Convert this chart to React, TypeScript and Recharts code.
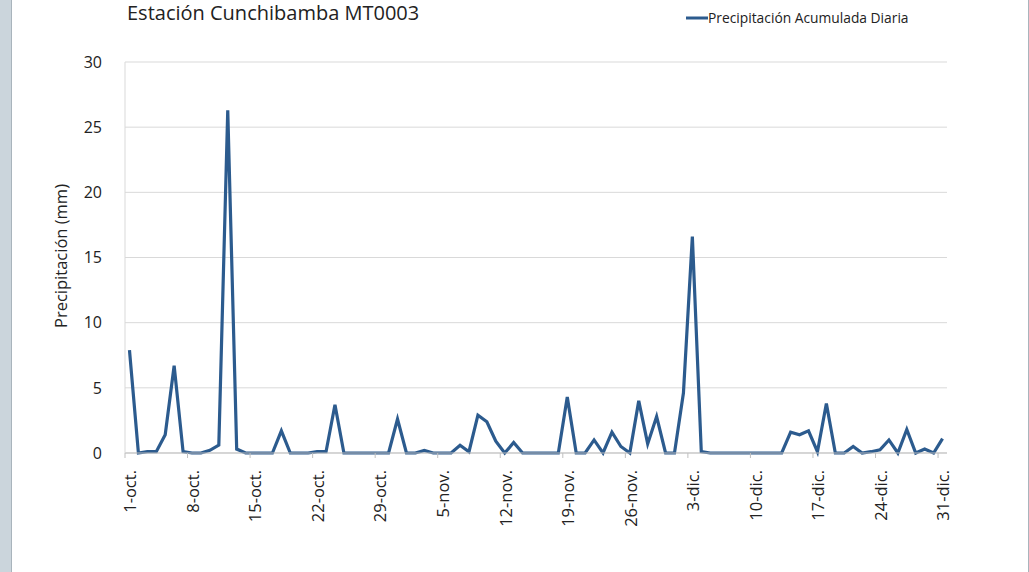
import React from "react";
import {
  CartesianGrid,
  Line,
  LineChart,
  XAxis,
  YAxis,
} from "recharts";

const octubre = [
  7.9, 0, 0.1, 0.1, 1.4, 6.7, 0.1, 0, 0, 0.2, 0.6, 26.3, 0.3, 0, 0, 0, 0, 1.7,
  0, 0, 0, 0.1, 0.1, 3.7, 0, 0, 0, 0, 0, 0, 2.6,
];
const noviembre = [
  0, 0, 0.2, 0, 0, 0, 0.6, 0.1, 2.9, 2.4, 0.9, 0, 0.8, 0, 0, 0, 0, 0, 4.3, 0,
  0, 1.0, 0, 1.6, 0.5, 0, 4.0, 0.7, 2.8, 0,
];
const diciembre = [
  0, 4.6, 16.6, 0.1, 0, 0, 0, 0, 0, 0, 0, 0, 0, 1.6, 1.4, 1.7, 0.1, 3.8, 0, 0,
  0.5, 0, 0.1, 0.25, 1.0, 0, 1.8, 0, 0.3, 0, 1.1,
];
const meses = [
  { abrev: "oct.", valores: octubre },
  { abrev: "nov.", valores: noviembre },
  { abrev: "dic.", valores: diciembre },
];
const yTicks = [0, 5, 10, 15, 20, 25, 30];

const data = meses.flatMap((m) =>
  m.valores.map((v, i) => ({ dia: `${i + 1}-${m.abrev}`, precip: v }))
);

const FONT = "'Open Sans', sans-serif";
const COLOR = "#2c5b8e";
const HALF_STEP = 4.47;

const XTick = (props: any) => {
  const { x, y, payload } = props;
  return (
    <g>
      <line x1={x - HALF_STEP} y1={y} x2={x - HALF_STEP} y2={y + 5} stroke="#bfbfbf" />
      <text
        x={0}
        y={0}
        dy="0.35em"
        transform={`translate(${x + 1},${y + 17}) rotate(-90)`}
        textAnchor="end"
        fontSize={16.5}
        fill="#222"
        fontFamily={FONT}
      >
        {payload.value}
      </text>
    </g>
  );
};

export default function App() {
  return (
    <div style={{ position: "absolute", left: 0, top: 0, width: 1029, height: 572, background: "#fff", overflow: "hidden" }}>
      <div style={{ position: "absolute", left: 0, top: 0, width: 11, height: 572, background: "#cbd5dc", borderRight: "1px solid #a9b4bc" }} />
      <div style={{ position: "absolute", right: 0, top: 0, width: 1, height: 572, background: "#a9b4bc" }} />
      <div style={{ position: "absolute", left: 127, top: -1, fontFamily: FONT, fontSize: 20, color: "#222", lineHeight: "28px" }}>
        Estación Cunchibamba MT0003
      </div>
      <div
        style={{
          position: "absolute",
          left: 686,
          top: 8,
          display: "flex",
          alignItems: "center",
          fontFamily: FONT,
          fontSize: 13.8,
          color: "#222",
          lineHeight: "20px",
        }}
      >
        <svg width={22} height={10}>
          <line x1={0} y1={5} x2={22} y2={5} stroke={COLOR} strokeWidth={3} />
        </svg>
        <span>Precipitación Acumulada Diaria</span>
      </div>
      <div
        style={{
          position: "absolute",
          left: 60,
          top: 256,
          transform: "translate(-50%, -50%) rotate(-90deg)",
          fontFamily: FONT,
          fontSize: 16.5,
          color: "#222",
          whiteSpace: "nowrap",
        }}
      >
        Precipitación (mm)
      </div>
      <LineChart width={1029} height={572} data={data} margin={{ top: 62, right: 82, left: 0, bottom: 39 }}>
        <CartesianGrid vertical={false} stroke="#d9d9d9" />
        <XAxis
          dataKey="dia"
          interval={6}
          padding={{ left: HALF_STEP, right: HALF_STEP }}
          tickLine={false}
          tickSize={0}
          tickMargin={0}
          height={80}
          stroke="#bfbfbf"
          tick={<XTick />}
        />
        <YAxis
          width={125}
          domain={[0, 30]}
          ticks={yTicks}
          tickLine={false}
          tickMargin={17}
          stroke="#d9d9d9"
          tick={{ fontSize: 16, fill: "#222", fontFamily: FONT }}
        />
        <Line
          type="linear"
          dataKey="precip"
          stroke={COLOR}
          strokeWidth={3.2}
          dot={false}
          activeDot={false}
          isAnimationActive={false}
        />
      </LineChart>
    </div>
  );
}
